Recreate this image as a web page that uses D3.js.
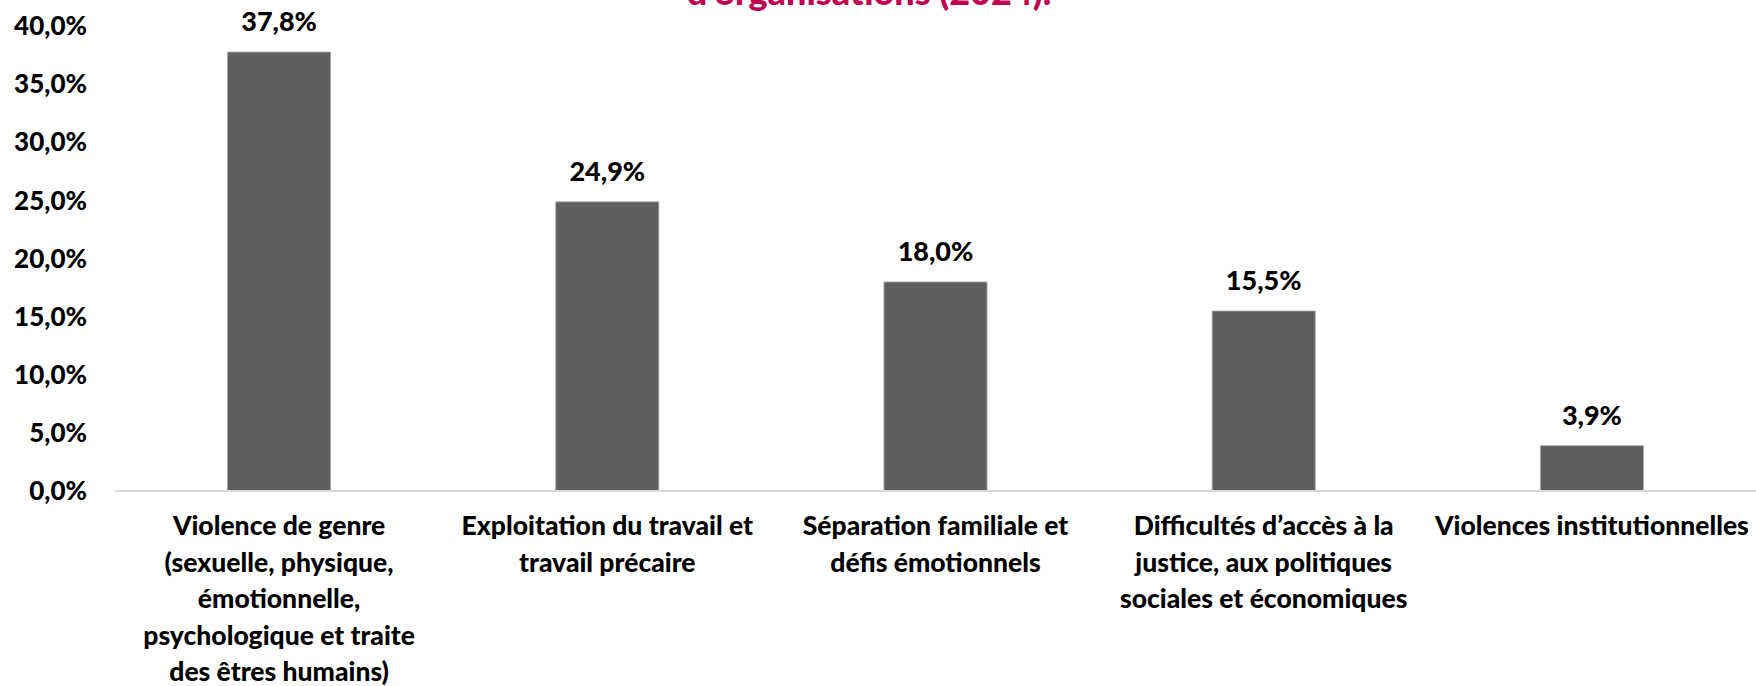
<!DOCTYPE html>
<html>
<head>
<meta charset="utf-8">
<script src="https://cdn.jsdelivr.net/npm/d3@7"></script>
<style>
  body { margin: 0; background: #fff; }
  text { font-family: Lato, "Open Sans", sans-serif; font-weight: bold; }
</style>
</head>
<body>
<div class="chart"></div>
<script>
// data
const categories = [
    "Violence de genre",
    "Exploitation du travail",
    "Séparation familiale",
    "Difficultés d'accès",
    "Violences institutionnelles"
];
const categoryLines = [
    ["Violence de genre", "(sexuelle, physique,", "émotionnelle,", "psychologique et traite", "des êtres humains)"],
    ["Exploitation du travail et", "travail précaire"],
    ["Séparation familiale et", "défis émotionnels"],
    ["Difficultés d’accès à la", "justice, aux politiques", "sociales et économiques"],
    ["Violences institutionnelles"]
];
const values = [37.8, 24.9, 18.0, 15.5, 3.9];
const yTicks = [0, 5, 10, 15, 20, 25, 30, 35, 40];
const titleLine = "d’organisations (2024).";

const width = 1756, height = 686;
const margin = {top: 26.5, right: 0, bottom: 195, left: 115};
const innerH = height - margin.top - margin.bottom;

const fmt = v => d3.format(".1f")(v).replace(".", ",") + "%";

const svg = d3.select(".chart")
    .append("svg")
    .attr("width", width)
    .attr("height", height)
    .attr("display", "block");

// title (only its last line shows in the original, cut by the top edge)
svg.append("text")
    .attr("x", 869)
    .attr("y", 5)
    .attr("text-anchor", "middle")
    .attr("fill", "#c00050")
    .style("font-size", "36px")
    .style("font-weight", 900)
    .text(titleLine);

const g = svg.append("g")
    .attr("transform", "translate(" + margin.left + "," + margin.top + ")");

const xScale = d3.scaleBand()
    .domain(categories)
    .range([0, width - margin.left - margin.right])
    .paddingInner(0.686)
    .paddingOuter(0.343);

const yScale = d3.scaleLinear()
    .domain([0, 40])
    .range([innerH, 0]);

// y axis: labels only
const yAxis = g.append("g")
    .call(d3.axisLeft(yScale).tickValues(yTicks).tickFormat(fmt).tickSize(0).tickPadding(28));
yAxis.select(".domain").remove();
yAxis.selectAll("text")
    .attr("fill", "#000")
    .style("font-size", "26px")
    .style("font-family", "Lato, sans-serif")
    .style("font-weight", 900);

// bars
g.selectAll("rect.bar")
    .data(values)
    .enter()
    .append("rect")
        .attr("class", "bar")
        .attr("x", function(d, i) { return xScale(categories[i]); })
        .attr("width", xScale.bandwidth())
        .attr("y", function(d) { return yScale(d); })
        .attr("height", function(d) { return innerH - yScale(d); })
        .attr("fill", "#5f5f5f")
        .attr("stroke", "#a8a8a8")
        .attr("stroke-width", 0.8);

// baseline
g.append("line")
    .attr("x1", 0)
    .attr("x2", width - margin.left)
    .attr("y1", innerH)
    .attr("y2", innerH)
    .attr("stroke", "#d9d9d9")
    .attr("stroke-width", 2);

// value labels
g.selectAll("text.val")
    .data(values)
    .enter()
    .append("text")
        .attr("class", "val")
        .attr("x", function(d, i) { return xScale(categories[i]) + xScale.bandwidth() / 2; })
        .attr("y", function(d) { return yScale(d) - 21; })
        .attr("text-anchor", "middle")
        .style("font-size", "27px")
        .style("font-weight", 900)
        .text(fmt);

// category labels
const cat = g.selectAll("text.cat")
    .data(categoryLines)
    .enter()
    .append("text")
        .attr("class", "cat")
        .attr("text-anchor", "middle")
        .attr("y", innerH + 44)
        .style("font-size", "26.5px")
        .style("font-weight", 900);
cat.each(function(lines, i) {
    const x = xScale(categories[i]) + xScale.bandwidth() / 2;
    d3.select(this).selectAll("tspan")
        .data(lines)
        .enter()
        .append("tspan")
            .attr("x", x)
            .attr("dy", function(d, j) { return j === 0 ? 0 : 36.6; })
            .text(function(d) { return d; });
});
</script>
</body>
</html>
